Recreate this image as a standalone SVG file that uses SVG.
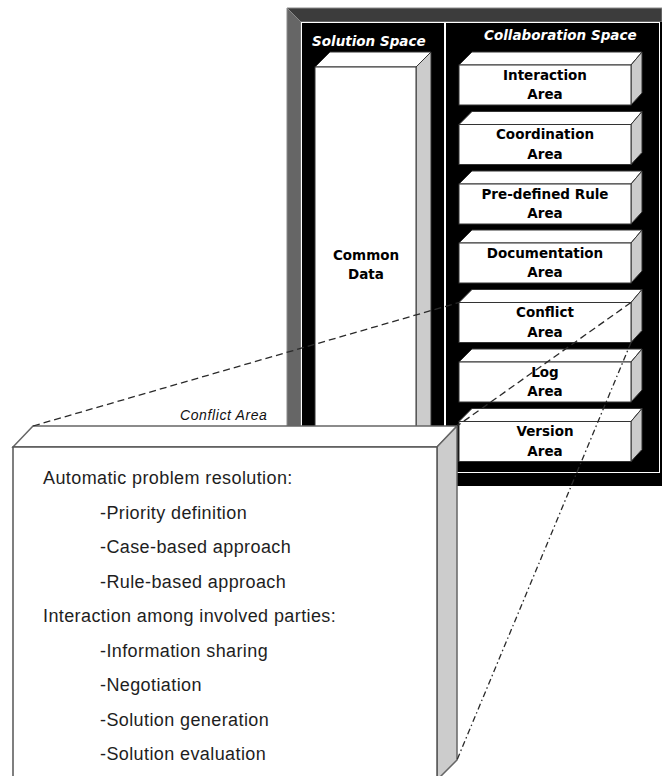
<svg xmlns="http://www.w3.org/2000/svg" width="662" height="776" viewBox="0 0 662 776">
<style>
.lbl{font-family:"DejaVu Sans",Verdana,sans-serif;font-weight:bold;font-style:oblique;font-size:13.5px;fill:#fff}
.bt{font-family:"DejaVu Sans",Verdana,sans-serif;font-weight:bold;font-size:13.5px;fill:#000;text-anchor:middle}
.face{fill:#fff;stroke:#333;stroke-width:1}
.side{fill:#cccccc;stroke:#333;stroke-width:1}
.body{font-family:"Liberation Sans",Arial,sans-serif;font-size:18px;letter-spacing:0.4px;fill:#1e1e1e}
.cap{font-family:"Liberation Sans",Arial,sans-serif;font-style:italic;font-size:14px;letter-spacing:0.6px;fill:#111}
.dash{fill:none;stroke:#2a2a2a;stroke-width:1.3;stroke-dasharray:7,4}
.dashdot{fill:none;stroke:#2a2a2a;stroke-width:1.3;stroke-dasharray:6,3,1.5,3}
</style>
<rect width="662" height="776" fill="#fff"/>
<g id="frame">
<polygon points="287,8 662,8 662,22 301,22" fill="#3c3c3c" stroke="#8a8a8a" stroke-width="1"/>
<polygon points="287,8 301,22 301,486 287,472" fill="#666" stroke="#8a8a8a" stroke-width="1"/>
<rect x="301" y="22" width="361" height="464" fill="#000"/>
<rect x="301.5" y="22.5" width="143" height="463" fill="none" stroke="#fff" stroke-width="1"/>
<rect x="445.5" y="22.5" width="214" height="450" fill="none" stroke="#fff" stroke-width="1"/>
<text class="lbl" x="312" y="46">Solution Space</text>
<text class="lbl" x="484" y="40">Collaboration Space</text>
</g>
<g id="common-data">
<polygon class="face" points="315,67 330,52 431,52 416,67"/>
<polygon class="side" points="416,67 431,52 431,440 416,455"/>
<rect class="face" x="315" y="67" width="101" height="390"/>
<text class="bt" x="366" y="260">Common</text>
<text class="bt" x="366" y="279">Data</text>
</g>
<g id="interaction-area">
<polygon class="face" points="459,65 472,52 642,52 631,65"/>
<polygon class="side" points="631,65 642,52 642,93 631,105"/>
<rect class="face" x="459" y="65" width="172" height="40"/>
<text class="bt" x="545" y="79.5">Interaction</text>
<text class="bt" x="545" y="99">Area</text>
</g>
<g id="coordination-area">
<polygon class="face" points="459,124.5 472,111.5 642,111.5 631,124.5"/>
<polygon class="side" points="631,124.5 642,111.5 642,152.5 631,164.5"/>
<rect class="face" x="459" y="124.5" width="172" height="40"/>
<text class="bt" x="545" y="139">Coordination</text>
<text class="bt" x="545" y="158.5">Area</text>
</g>
<g id="predefined-rule-area">
<polygon class="face" points="459,184 472,171 642,171 631,184"/>
<polygon class="side" points="631,184 642,171 642,212 631,224"/>
<rect class="face" x="459" y="184" width="172" height="40"/>
<text class="bt" x="545" y="198.5">Pre-defined Rule</text>
<text class="bt" x="545" y="218">Area</text>
</g>
<g id="documentation-area">
<polygon class="face" points="459,243 472,230 642,230 631,243"/>
<polygon class="side" points="631,243 642,230 642,271 631,283"/>
<rect class="face" x="459" y="243" width="172" height="40"/>
<text class="bt" x="545" y="257.5">Documentation</text>
<text class="bt" x="545" y="277">Area</text>
</g>
<g id="conflict-area">
<polygon class="face" points="459,302.5 472,289.5 642,289.5 631,302.5"/>
<polygon class="side" points="631,302.5 642,289.5 642,330.5 631,342.5"/>
<rect class="face" x="459" y="302.5" width="172" height="40"/>
<text class="bt" x="545" y="317">Conflict</text>
<text class="bt" x="545" y="336.5">Area</text>
</g>
<g id="log-area">
<polygon class="face" points="459,362 472,349 642,349 631,362"/>
<polygon class="side" points="631,362 642,349 642,390 631,402"/>
<rect class="face" x="459" y="362" width="172" height="40"/>
<text class="bt" x="545" y="376.5">Log</text>
<text class="bt" x="545" y="396">Area</text>
</g>
<g id="version-area">
<polygon class="face" points="459,421.5 472,408.5 642,408.5 631,421.5"/>
<polygon class="side" points="631,421.5 642,408.5 642,449.5 631,461.5"/>
<rect class="face" x="459" y="421.5" width="172" height="40"/>
<text class="bt" x="545" y="436">Version</text>
<text class="bt" x="545" y="455.5">Area</text>
</g>
<g id="conflict-detail">
<polygon points="13,447 33,426 457,426 437,447" fill="#fff" stroke="#666" stroke-width="1.5"/>
<polygon points="437,447 457,426 457,760 437,780" fill="#cccccc" stroke="#666" stroke-width="1.5"/>
<rect x="13" y="447" width="424" height="340" fill="#fff" stroke="#555" stroke-width="1.5"/>
<text class="cap" x="180" y="420">Conflict Area</text>
<text class="body" x="43" y="484">Automatic problem resolution:</text>
<text class="body" x="100" y="518.5">-Priority definition</text>
<text class="body" x="100" y="553">-Case-based approach</text>
<text class="body" x="100" y="587.5">-Rule-based approach</text>
<text class="body" x="43" y="622">Interaction among involved parties:</text>
<text class="body" x="100" y="656.5">-Information sharing</text>
<text class="body" x="100" y="691">-Negotiation</text>
<text class="body" x="100" y="725.5">-Solution generation</text>
<text class="body" x="100" y="760">-Solution evaluation</text>
</g>
<g id="connectors">
<line class="dash" x1="33" y1="426" x2="459" y2="302.5"/>
<line class="dash" x1="631" y1="302.5" x2="457" y2="426"/>
<line class="dashdot" x1="631" y1="342.5" x2="457" y2="760"/>
</g>
</svg>
